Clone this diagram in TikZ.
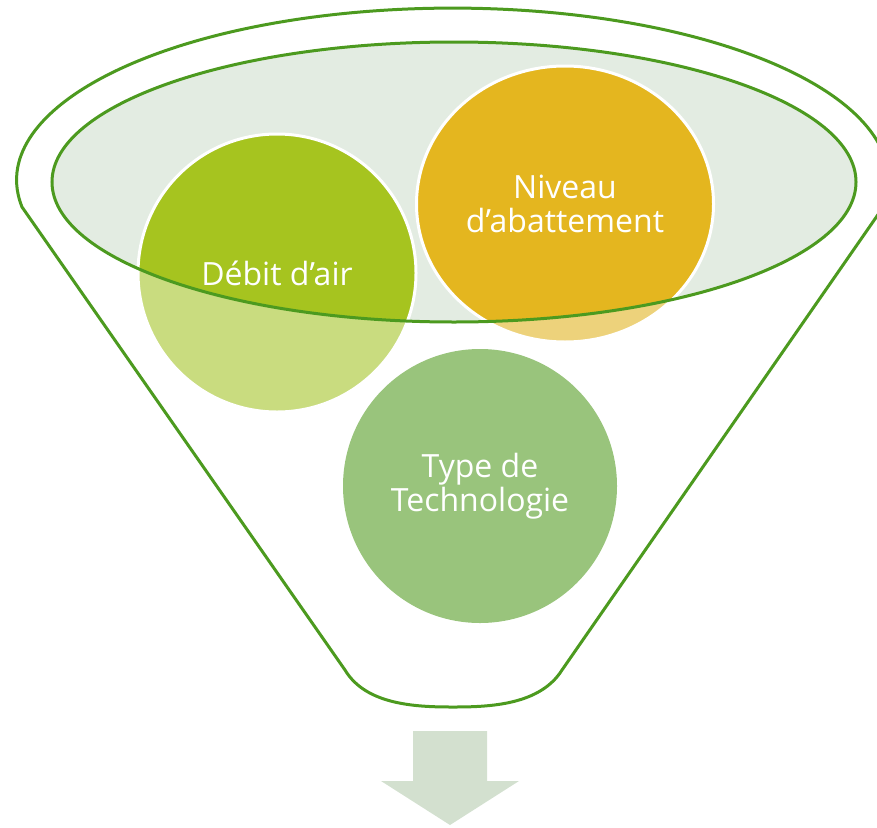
\documentclass[tikz,border=0pt]{standalone}
\usepackage{fontspec}
\setmainfont{Open Sans}
\usetikzlibrary{shapes.geometric}

\definecolor{rimgreen}{HTML}{4C9A1F}
\definecolor{mouthfill}{HTML}{E3ECE2}
\definecolor{debitdark}{HTML}{A6C41F}
\definecolor{debitlight}{HTML}{C9DC7F}
\definecolor{niveaudark}{HTML}{E4B61F}
\definecolor{niveaulight}{HTML}{EDD27B}
\definecolor{technofill}{HTML}{99C47C}
\definecolor{arrowfill}{HTML}{D3E0CF}

\pgfdeclarelayer{back}
\pgfdeclarelayer{discs}
\pgfsetlayers{back,discs,main}

\tikzset{
  bubbletext/.style={text=white, align=center, inner sep=0pt, font=\fontsize{32}{34}\selectfont},
  funnelline/.style={draw=rimgreen, line width=3pt},
  rim/.style={draw=white, line width=3pt}
}

\begin{document}
\begin{tikzpicture}[x=1pt, y=-1pt]
			%%%%% START %%%%%
			\useasboundingbox (0,0) rectangle (877,827);
			\coordinate (mouth) at (454,182);
			
			\draw[funnelline] (mouth) ellipse [x radius=402pt, y radius=140pt];
			
			\node[bubbletext] (debit) at (277,273) {Débit d’air};
			\node[bubbletext] (niveau) at (565,204) {Niveau\\d’abattement};
			\node[bubbletext] (techno) at (480,486) {Type de\\Technologie};
			
			\begin{pgfonlayer}{back}
			\draw[funnelline, line join=round] (22,207) arc [start angle=189, end angle=-9, x radius=436pt, y radius=172pt]
				-- (562,670) .. controls (540,705) and (490,707) .. (453,707)
				.. controls (416,707) and (366,705) .. (345,670) -- cycle;
			\fill[mouthfill] (mouth) ellipse [x radius=402pt, y radius=140pt];
			\fill[arrowfill] (413,731) -- (487,731) -- (487,781) -- (519,781) -- (450,825) -- (381,781) -- (413,781) -- cycle;
			\end{pgfonlayer}
			
			\begin{pgfonlayer}{discs}
			\fill[debitlight] (debit.center) circle [radius=139pt];
			\fill[niveaulight] (niveau.center) ellipse [x radius=148.5pt, y radius=138pt];
			\fill[technofill] (techno.center) circle [radius=137pt];
			\begin{scope}
				\clip (mouth) ellipse [x radius=402pt, y radius=140pt];
				\fill[debitdark] (debit.center) circle [radius=139pt];
				\fill[niveaudark] (niveau.center) ellipse [x radius=148.5pt, y radius=138pt];
			\end{scope}
			\draw[rim] (debit.center) circle [radius=139pt];
			\draw[rim] (niveau.center) ellipse [x radius=148.5pt, y radius=138pt];
			\end{pgfonlayer}
			%%%%% END %%%%%
\end{tikzpicture}
\end{document}
